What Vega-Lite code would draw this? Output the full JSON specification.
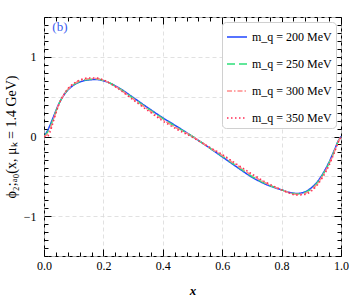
{
  "$schema": "https://vega.github.io/schema/vega-lite/v6.json",
  "width": 297,
  "height": 239,
  "autosize": {"type": "none"},
  "padding": {"left": 44, "top": 17, "right": 8, "bottom": 45},
  "background": "white",
  "config": {
    "view": {"stroke": "black", "strokeWidth": 1},
    "axis": {
      "domain": false,
      "labelFont": "Liberation Serif",
      "labelFontSize": 12,
      "labelColor": "black",
      "titleFont": "Liberation Serif",
      "titleColor": "black",
      "titleFontWeight": "normal",
      "tickColor": "black",
      "tickWidth": 1,
      "gridColor": "#d9d9d9",
      "gridDash": [4, 3],
      "gridWidth": 0.8
    }
  },
  "datasets": {
    "curves": [
      {"x": 0, "200": 0, "250": 0, "300": 0, "350": 0},
      {"x": 0.01, "200": 0.06, "250": 0.042, "300": 0.025, "350": 0.0},
      {"x": 0.02, "200": 0.14, "250": 0.113, "300": 0.085, "350": 0.05},
      {"x": 0.03, "200": 0.23, "250": 0.212, "300": 0.195, "350": 0.17},
      {"x": 0.05, "200": 0.41, "250": 0.407, "300": 0.404, "350": 0.40},
      {"x": 0.075, "200": 0.56, "250": 0.565, "300": 0.569, "350": 0.575},
      {"x": 0.1, "200": 0.645, "250": 0.651, "300": 0.657, "350": 0.665},
      {"x": 0.125, "200": 0.69, "250": 0.698, "300": 0.705, "350": 0.715},
      {"x": 0.15, "200": 0.71, "250": 0.717, "300": 0.725, "350": 0.735},
      {"x": 0.175, "200": 0.715, "250": 0.721, "300": 0.727, "350": 0.735},
      {"x": 0.2, "200": 0.70, "250": 0.703, "300": 0.706, "350": 0.71},
      {"x": 0.25, "200": 0.615, "250": 0.61, "300": 0.606, "350": 0.60},
      {"x": 0.3, "200": 0.49, "250": 0.481, "300": 0.472, "350": 0.46},
      {"x": 0.35, "200": 0.36, "250": 0.35, "300": 0.339, "350": 0.325},
      {"x": 0.4, "200": 0.235, "250": 0.223, "300": 0.211, "350": 0.195},
      {"x": 0.45, "200": 0.12, "250": 0.109, "300": 0.099, "350": 0.085},
      {"x": 0.5, "200": 0.0, "250": 0.0, "300": 0.0, "350": -0.01},
      {"x": 0.55, "200": -0.125, "250": -0.124, "300": -0.122, "350": -0.12},
      {"x": 0.6, "200": -0.255, "250": -0.246, "300": -0.237, "350": -0.225},
      {"x": 0.65, "200": -0.385, "250": -0.375, "300": -0.364, "350": -0.35},
      {"x": 0.7, "200": -0.51, "250": -0.50, "300": -0.486, "350": -0.47},
      {"x": 0.75, "200": -0.605, "250": -0.598, "300": -0.59, "350": -0.58},
      {"x": 0.8, "200": -0.67, "250": -0.67, "300": -0.67, "350": -0.67},
      {"x": 0.825, "200": -0.70, "250": -0.703, "300": -0.706, "350": -0.71},
      {"x": 0.85, "200": -0.715, "250": -0.721, "300": -0.727, "350": -0.735},
      {"x": 0.875, "200": -0.70, "250": -0.709, "300": -0.718, "350": -0.73},
      {"x": 0.9, "200": -0.645, "250": -0.657, "300": -0.669, "350": -0.685},
      {"x": 0.92, "200": -0.57, "250": -0.582, "300": -0.594, "350": -0.61},
      {"x": 0.94, "200": -0.46, "250": -0.472, "300": -0.484, "350": -0.50},
      {"x": 0.96, "200": -0.32, "250": -0.332, "300": -0.344, "350": -0.36},
      {"x": 0.98, "200": -0.15, "250": -0.159, "300": -0.168, "350": -0.18},
      {"x": 0.99, "200": -0.06, "250": -0.066, "300": -0.072, "350": -0.08},
      {"x": 1.0, "200": 0, "250": 0, "300": 0, "350": 0}
    ]
  },
  "resolve": {"axis": {"x": "independent", "y": "independent"}},
  "layer": [
    {
      "data": {"name": "curves"},
      "transform": [{"fold": ["200", "250", "300", "350"], "as": ["mq", "phi"]}],
      "mark": {"type": "line", "strokeWidth": 1.5, "interpolate": "monotone", "clip": true},
      "encoding": {
        "x": {
          "field": "x", "type": "quantitative",
          "scale": {"domain": [0, 1], "nice": false, "zero": false},
          "axis": {
            "orient": "bottom",
            "title": "x",
            "titleFontStyle": "italic",
            "titleFontWeight": "bold",
            "titleFontSize": 13,
            "titlePadding": 13,
            "values": [0, 0.04, 0.08, 0.12, 0.16, 0.2, 0.24, 0.28, 0.32, 0.36, 0.4, 0.44, 0.48, 0.52, 0.56, 0.6, 0.64, 0.68, 0.72, 0.76, 0.8, 0.84, 0.88, 0.92, 0.96, 1.0],
            "labelExpr": "abs(datum.value*5 - round(datum.value*5)) < 0.001 ? format(datum.value, '.1f') : ''",
            "tickSize": {"condition": {"test": "abs(datum.value*5 - round(datum.value*5)) < 0.001", "value": -7}, "value": -4},
            "labelPadding": 11,
            "labelFlush": false,
            "grid": true,
            "gridOpacity": {"condition": {"test": "abs(datum.value*5 - round(datum.value*5)) < 0.001", "value": 1}, "value": 0}
          }
        },
        "y": {
          "field": "phi", "type": "quantitative",
          "scale": {"domain": [-1.5, 1.5], "nice": false, "zero": false},
          "axis": {
            "orient": "left",
            "title": "ϕ₂;ₐ₀(x, μₖ = 1.4 GeV)",
            "titleFontSize": 14,
            "titlePadding": 5,
            "values": [-1.5, -1.4, -1.3, -1.2, -1.1, -1.0, -0.9, -0.8, -0.7, -0.6, -0.5, -0.4, -0.3, -0.2, -0.1, 0, 0.1, 0.2, 0.3, 0.4, 0.5, 0.6, 0.7, 0.8, 0.9, 1.0, 1.1, 1.2, 1.3, 1.4, 1.5],
            "labelExpr": "abs(datum.value - round(datum.value)) < 0.001 && abs(datum.value) < 1.2 ? (round(datum.value) < 0 ? '−' + abs(round(datum.value)) : '' + round(datum.value)) : ''",
            "tickSize": {"condition": {"test": "abs(datum.value - round(datum.value)) < 0.001", "value": -7}, "value": -4},
            "labelPadding": 15,
            "labelFlush": false,
            "grid": true,
            "gridOpacity": {"condition": {"test": "abs(datum.value*2 - round(datum.value*2)) < 0.001", "value": 1}, "value": 0}
          }
        },
        "color": {
          "field": "mq", "type": "nominal",
          "scale": {"domain": ["200", "250", "300", "350"], "range": ["#1f45ff", "#2ee07a", "#ff8a8a", "#ff2d55"]},
          "legend": {
            "title": null,
            "orient": "top-right",
            "offset": 5,
            "labelExpr": "'m_q = ' + datum.label + ' MeV'",
            "labelFont": "Liberation Serif",
            "labelFontSize": 12,
            "labelColor": "black",
            "symbolType": "stroke",
            "symbolSize": 400,
            "symbolStrokeWidth": 1.5,
            "rowPadding": 10,
            "padding": 4,
            "labelOffset": 4,
            "strokeColor": "#d0d0d0",
            "fillColor": "white",
            "cornerRadius": 4
          }
        },
        "strokeDash": {
          "field": "mq", "type": "nominal",
          "scale": {"domain": ["200", "250", "300", "350"], "range": [[1, 0], [8, 4], [5, 2, 1.5, 2], [1.5, 2.5]]},
          "legend": null
        }
      }
    },
    {
      "data": {"values": [{"label": "(b)"}]},
      "mark": {"type": "text", "font": "Liberation Serif", "fontSize": 13, "color": "#3a5cf0", "align": "left", "baseline": "middle"},
      "encoding": {
        "x": {
          "datum": 0.028, "type": "quantitative",
          "axis": {
            "orient": "top",
            "title": null,
            "labels": false,
            "grid": false,
            "values": [0, 0.04, 0.08, 0.12, 0.16, 0.2, 0.24, 0.28, 0.32, 0.36, 0.4, 0.44, 0.48, 0.52, 0.56, 0.6, 0.64, 0.68, 0.72, 0.76, 0.8, 0.84, 0.88, 0.92, 0.96, 1.0],
            "tickSize": {"condition": {"test": "abs(datum.value*5 - round(datum.value*5)) < 0.001", "value": -7}, "value": -4}
          }
        },
        "y": {
          "datum": 1.37, "type": "quantitative",
          "axis": {
            "orient": "right",
            "title": null,
            "labels": false,
            "grid": false,
            "values": [-1.5, -1.4, -1.3, -1.2, -1.1, -1.0, -0.9, -0.8, -0.7, -0.6, -0.5, -0.4, -0.3, -0.2, -0.1, 0, 0.1, 0.2, 0.3, 0.4, 0.5, 0.6, 0.7, 0.8, 0.9, 1.0, 1.1, 1.2, 1.3, 1.4, 1.5],
            "tickSize": {"condition": {"test": "abs(datum.value - round(datum.value)) < 0.001", "value": -7}, "value": -4}
          }
        },
        "text": {"field": "label"}
      }
    }
  ]
}
